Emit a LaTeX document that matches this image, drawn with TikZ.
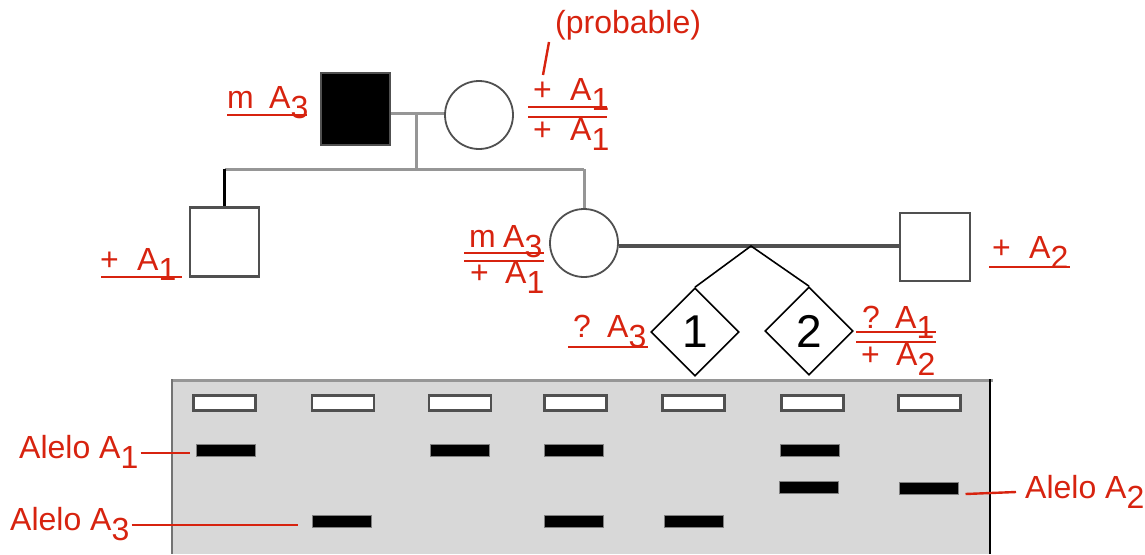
\documentclass[tikz,border=0pt]{standalone}
\usepackage{fontspec}
\setmainfont{Liberation Sans}
\usetikzlibrary{shapes.geometric}
\definecolor{lbl}{RGB}{215,35,15}
\definecolor{gelfill}{RGB}{216,216,216}
\definecolor{pgray}{RGB}{150,150,150}
\definecolor{dgray}{RGB}{80,80,80}
\newcommand\sbs[1]{\raisebox{-0.34em}{#1}}
\begin{document}
\begin{tikzpicture}[x=1pt,y=-1pt,
  lab/.style={text=lbl, font=\fontsize{32}{32}\selectfont, inner sep=0pt, anchor=base west},
  alelo/.style={text=lbl, font=\fontsize{32}{32}\selectfont, inner sep=0pt, anchor=base west},
  rl/.style={draw=lbl, line width=2.4pt},
  gline/.style={draw=pgray, line width=3pt},
  malebox/.style={draw=dgray, line width=2.2pt, minimum width=69pt, minimum height=69pt, inner sep=0pt},
  femcirc/.style={circle, draw=dgray, line width=1.8pt, minimum size=68pt, inner sep=0pt},
  twin/.style={diamond, draw=black, line width=1.6pt, minimum size=88pt, inner sep=0pt, font=\fontsize{46}{46}\selectfont},
  well/.style={draw=dgray, fill=white, line width=2.6pt, minimum width=62pt, minimum height=15pt, inner sep=0pt},
  band/.style={draw=gray, fill=black, line width=1pt, minimum width=59pt, minimum height=12pt, inner sep=0pt}]
\useasboundingbox (0,0) rectangle (1145,554);

% ---------- gel ----------
\fill[gelfill] (171,379) rectangle (991,554);
\draw[pgray, line width=3pt] (171,380) -- (993,380);
\draw[dgray!80, line width=2.5pt] (172,379) -- (172,554);
\draw[black, line width=2.5pt] (990,379) -- (990,554);

\foreach \i/\x in {1/224.5,2/343,3/460,4/575.5,5/693.5,6/812.5,7/929.5}
  \node[well] (w\i) at (\x,403) {};

\node[band] (b1) at (225.5,450) {};
\node[band] (b2) at (342,521) {};
\node[band] (b3) at (460,450) {};
\node[band] (b4a) at (574,450) {};
\node[band] (b4c) at (574,521) {};
\node[band] (b5) at (694,521) {};
\node[band] (b6a) at (810,450) {};
\node[band] (b6b) at (809,487) {};
\node[band] (b7) at (928.5,488) {};

% ---------- pedigree ----------
\node[malebox, fill=black, minimum height=72pt] (fa) at (355.5,109) {};
\node[femcirc] (mo) at (479,115) {};
\draw[gline] (fa.east |- 0,113) -- (mo.west |- 0,113);
\coordinate (d1) at (416,113);
\coordinate (d2) at (416,169);
\draw[gline] (d1) -- (d2);

\node[malebox] (c1) at (224.5,242) {};
\node[femcirc] (da) at (584,243) {};
\draw[gline] (c1.north |- d2) -- (da.north |- d2);
\draw[black, line width=2.8pt] (c1.north |- d2) -- (c1.north);
\draw[gline] (da.north |- d2) -- (da.north);

\node[malebox, minimum width=70pt, minimum height=68pt] (hu) at (935,247) {};
\coordinate (j) at (751,246);
\draw[dgray, line width=4.5pt] (da.east |- j) -- (hu.west |- j);

\node[twin] (t1) at (695,332) {1};
\node[twin] (t2) at (809,331) {2};
\draw[black, line width=1.6pt] (t1.north) -- (j) -- (t2.north);

% ---------- genotype labels ----------
% father
\node[lab] (fam) at (227,108) {m};
\node[lab] (faA) at (269,108) {A\sbs{3}};
\draw[rl] (227,115) -- (307,115);
% mother
\node[lab] (mo1p) at (533,100) {+};
\node[lab] (mo1A) at (570,100) {A\sbs{1}};
\node[lab] (mo2p) at (533,140) {+};
\node[lab] (mo2A) at (570,140) {A\sbs{1}};
\draw[rl] (528,107) -- (607,107);
\draw[rl] (528,117) -- (607,117);
\node[text=lbl, font=\fontsize{32}{32}\selectfont, inner sep=0pt, anchor=base west] (prob) at (555,33) {(probable)};
\draw[rl] (549,42) -- (543,75);
% left child
\node[lab] (c1p) at (100,270) {+};
\node[lab] (c1A) at (137,270) {A\sbs{1}};
\draw[rl] (101,277) -- (182,277);
% daughter
\node[lab] (da1m) at (469,247) {m};
\node[lab] (da1A) at (503,247) {A\sbs{3}};
\draw[rl] (464,253) -- (544,253);
\draw[rl] (464,261) -- (544,261);
\node[lab] (da2p) at (470,283) {+};
\node[lab] (da2A) at (505,283) {A\sbs{1}};
% husband
\node[lab] (hup) at (992,258) {+};
\node[lab] (huA) at (1029,258) {A\sbs{2}};
\draw[rl] (989,267) -- (1070,267);
% twin 1
\node[lab] (t1q) at (573,337) {?};
\node[lab] (t1A) at (607,337) {A\sbs{3}};
\draw[rl] (568,347) -- (648,347);
% twin 2
\node[lab] (t2q) at (862,328) {?};
\node[lab] (t2A) at (895,328) {A\sbs{1}};
\draw[rl] (856,332) -- (936,332);
\draw[rl] (856,342) -- (936,342);
\node[lab] (t2p) at (861,365) {+};
\node[lab] (t2B) at (896,365) {A\sbs{2}};

% ---------- allele labels ----------
\node[alelo] (la1) at (19,458) {Alelo A\sbs{1}};
\node[alelo] (la3) at (10,530) {Alelo A\sbs{3}};
\node[alelo] (la2) at (1025,498) {Alelo A\sbs{2}};
\draw[rl] ([xshift=2pt]la1.east |- 0,453) -- ([xshift=-6pt]b1.west |- 0,453);
\draw[rl] ([xshift=2pt]la3.east |- 0,525) -- ([xshift=-14pt]b2.west |- 0,525);
\draw[rl] ([xshift=7pt]b7.east |- 0,494) -- ([xshift=-9pt]la2.west |- 0,492);
\end{tikzpicture}
\end{document}
